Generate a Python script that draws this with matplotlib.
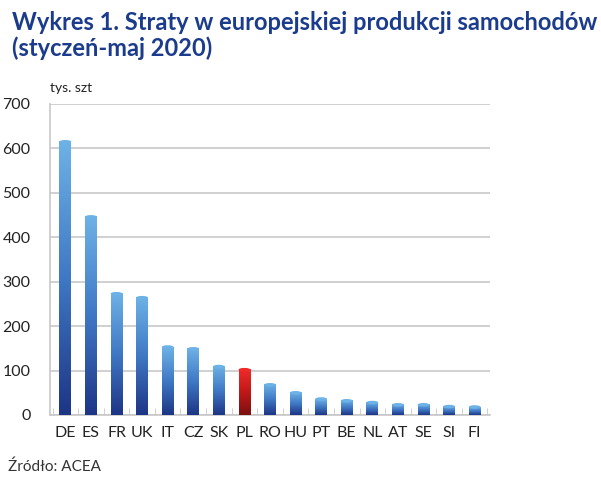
import matplotlib
matplotlib.use("Agg")
import matplotlib.pyplot as plt
import numpy as np
from matplotlib.patches import Ellipse
from matplotlib.colors import LinearSegmentedColormap

countries = ["DE", "ES", "FR", "UK", "IT", "CZ", "SK", "PL", "RO", "HU", "PT", "BE", "NL", "AT", "SE", "SI", "FI"]
values = [619, 450, 277, 268, 157, 153, 113, 106, 72, 54, 40, 36, 32, 27, 27, 23, 22]
highlight = "PL"
yticks = [0, 100, 200, 300, 400, 500, 600, 700]

plt.rcParams["font.family"] = ["Lato", "DejaVu Sans"]

fig = plt.figure(figsize=(6.01, 4.79), dpi=100)
ax = fig.add_axes([50/601, 1-415/479, 440/601, 311/479])

blue_cmap = LinearSegmentedColormap.from_list("b", ["#1d3585", "#3f78c4", "#6db2e6"])
red_cmap = LinearSegmentedColormap.from_list("r", ["#7a1010", "#c01818", "#ee2a2a"])
grad = np.linspace(0, 1, 256).reshape(-1, 1)
width = 0.46
for i, (c, v) in enumerate(zip(countries, values)):
    cmap = red_cmap if c == highlight else blue_cmap
    ax.imshow(grad, cmap=cmap, origin="lower", aspect="auto",
              extent=[i - width/2, i + width/2, 0, v - 4], zorder=3, interpolation="bilinear")
    top = cmap(1.0)
    ax.add_patch(Ellipse((i, v - 4), width, 8, facecolor=top, edgecolor="none", zorder=3))

ax.set_xlim(-0.6, len(countries) - 0.4)
ax.set_ylim(0, 700)
ax.set_yticks(yticks)
ax.set_xticks(range(len(countries)))
ax.set_xticklabels(countries)
ax.tick_params(axis="y", length=0, pad=14, labelsize=11.5, labelcolor="#222222")
ax.tick_params(axis="x", length=0, pad=8, labelsize=11.5, labelcolor="#222222")
ax.yaxis.grid(True, color="#c8c8c8", linewidth=1.2, zorder=0)
ax.set_axisbelow(True)
for s in ["top", "right"]:
    ax.spines[s].set_visible(False)
ax.spines["left"].set_color("#c8c8c8")
ax.spines["left"].set_linewidth(1.2)
ax.spines["bottom"].set_color("#c8c8c8")
ax.spines["bottom"].set_linewidth(1.2)
ax.set_xticks(np.arange(-0.5, len(countries), 1), minor=True)
ax.tick_params(axis="x", which="minor", length=5, color="#c8c8c8", direction="in")

fig.text(50/601, 1-88/479, "tys. szt", fontsize=10, color="#222222", va="center", ha="left")
fig.text(12/601, 1-22/479, "Wykres 1. Straty w europejskiej produkcji samochodów",
         fontsize=17, fontweight="bold", color="#1b3c8c", va="center", ha="left")
fig.text(12/601, 1-48/479, "(styczeń-maj 2020)",
         fontsize=17, fontweight="bold", color="#1b3c8c", va="center", ha="left")
fig.text(8/601, 1-467/479, "Źródło: ACEA", fontsize=11, color="#333333", va="center", ha="left")

fig.savefig("out.png", dpi=100)
